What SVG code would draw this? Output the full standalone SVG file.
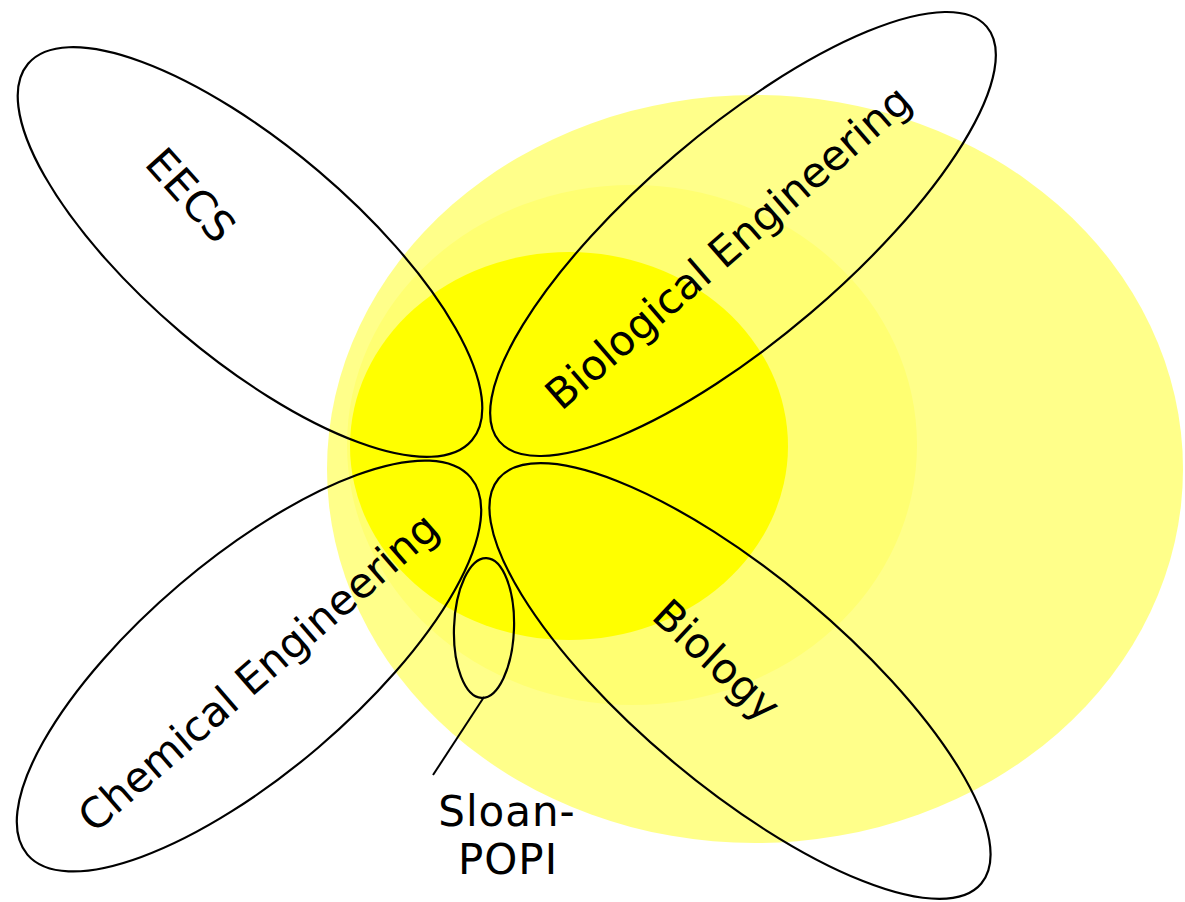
<svg xmlns="http://www.w3.org/2000/svg" width="1185" height="902" viewBox="0 0 1185 902">
<style>
.petal{fill:none;stroke:#000;stroke-width:2.2}
.lbl{font-family:"DejaVu Sans","Liberation Sans",sans-serif;font-size:42px;fill:#000;text-anchor:middle}
.conn{stroke:#000;stroke-width:2;fill:none}
</style>
<rect width="1185" height="902" fill="#fff"/>
<g id="background">
<ellipse cx="755" cy="469" rx="428" ry="374" fill="#ffff8a"/>
<ellipse cx="632" cy="445" rx="285" ry="260" fill="#ffff72"/>
<ellipse cx="569" cy="446" rx="219" ry="194" fill="#ffff00"/>
</g>
<g id="eecs">
<ellipse class="petal" cx="250" cy="252" rx="291" ry="106" transform="rotate(40.3 250 252)"/>
<text class="lbl" transform="translate(191 195) rotate(48)" dy="15">EECS</text>
</g>
<g id="bioeng">
<ellipse class="petal" cx="743" cy="234" rx="320" ry="104" transform="rotate(-40.4 743 234)"/>
<text class="lbl" transform="translate(728 247) rotate(-41)" dy="15">Biological Engineering</text>
</g>
<g id="chemeng">
<ellipse class="petal" cx="249" cy="666" rx="291" ry="107" transform="rotate(-40.4 249 666)"/>
<text class="lbl" transform="translate(258 672) rotate(-41)" dy="15">Chemical Engineering</text>
</g>
<g id="biology">
<ellipse class="petal" cx="740" cy="681" rx="315" ry="105" transform="rotate(40 740 681)"/>
<text class="lbl" transform="translate(717 660) rotate(43)" dy="15">Biology</text>
</g>
<g id="sloan">
<ellipse class="petal" cx="484" cy="628" rx="30" ry="70" transform="rotate(2 484 628)"/>
<text class="lbl" style="letter-spacing:1px" x="507" y="826">Sloan-</text>
<text class="lbl" style="letter-spacing:1px" x="508" y="874">POPI</text>
</g>
<g id="connectors">
<line class="conn" x1="484" y1="697" x2="433" y2="775"/>
</g>
</svg>
